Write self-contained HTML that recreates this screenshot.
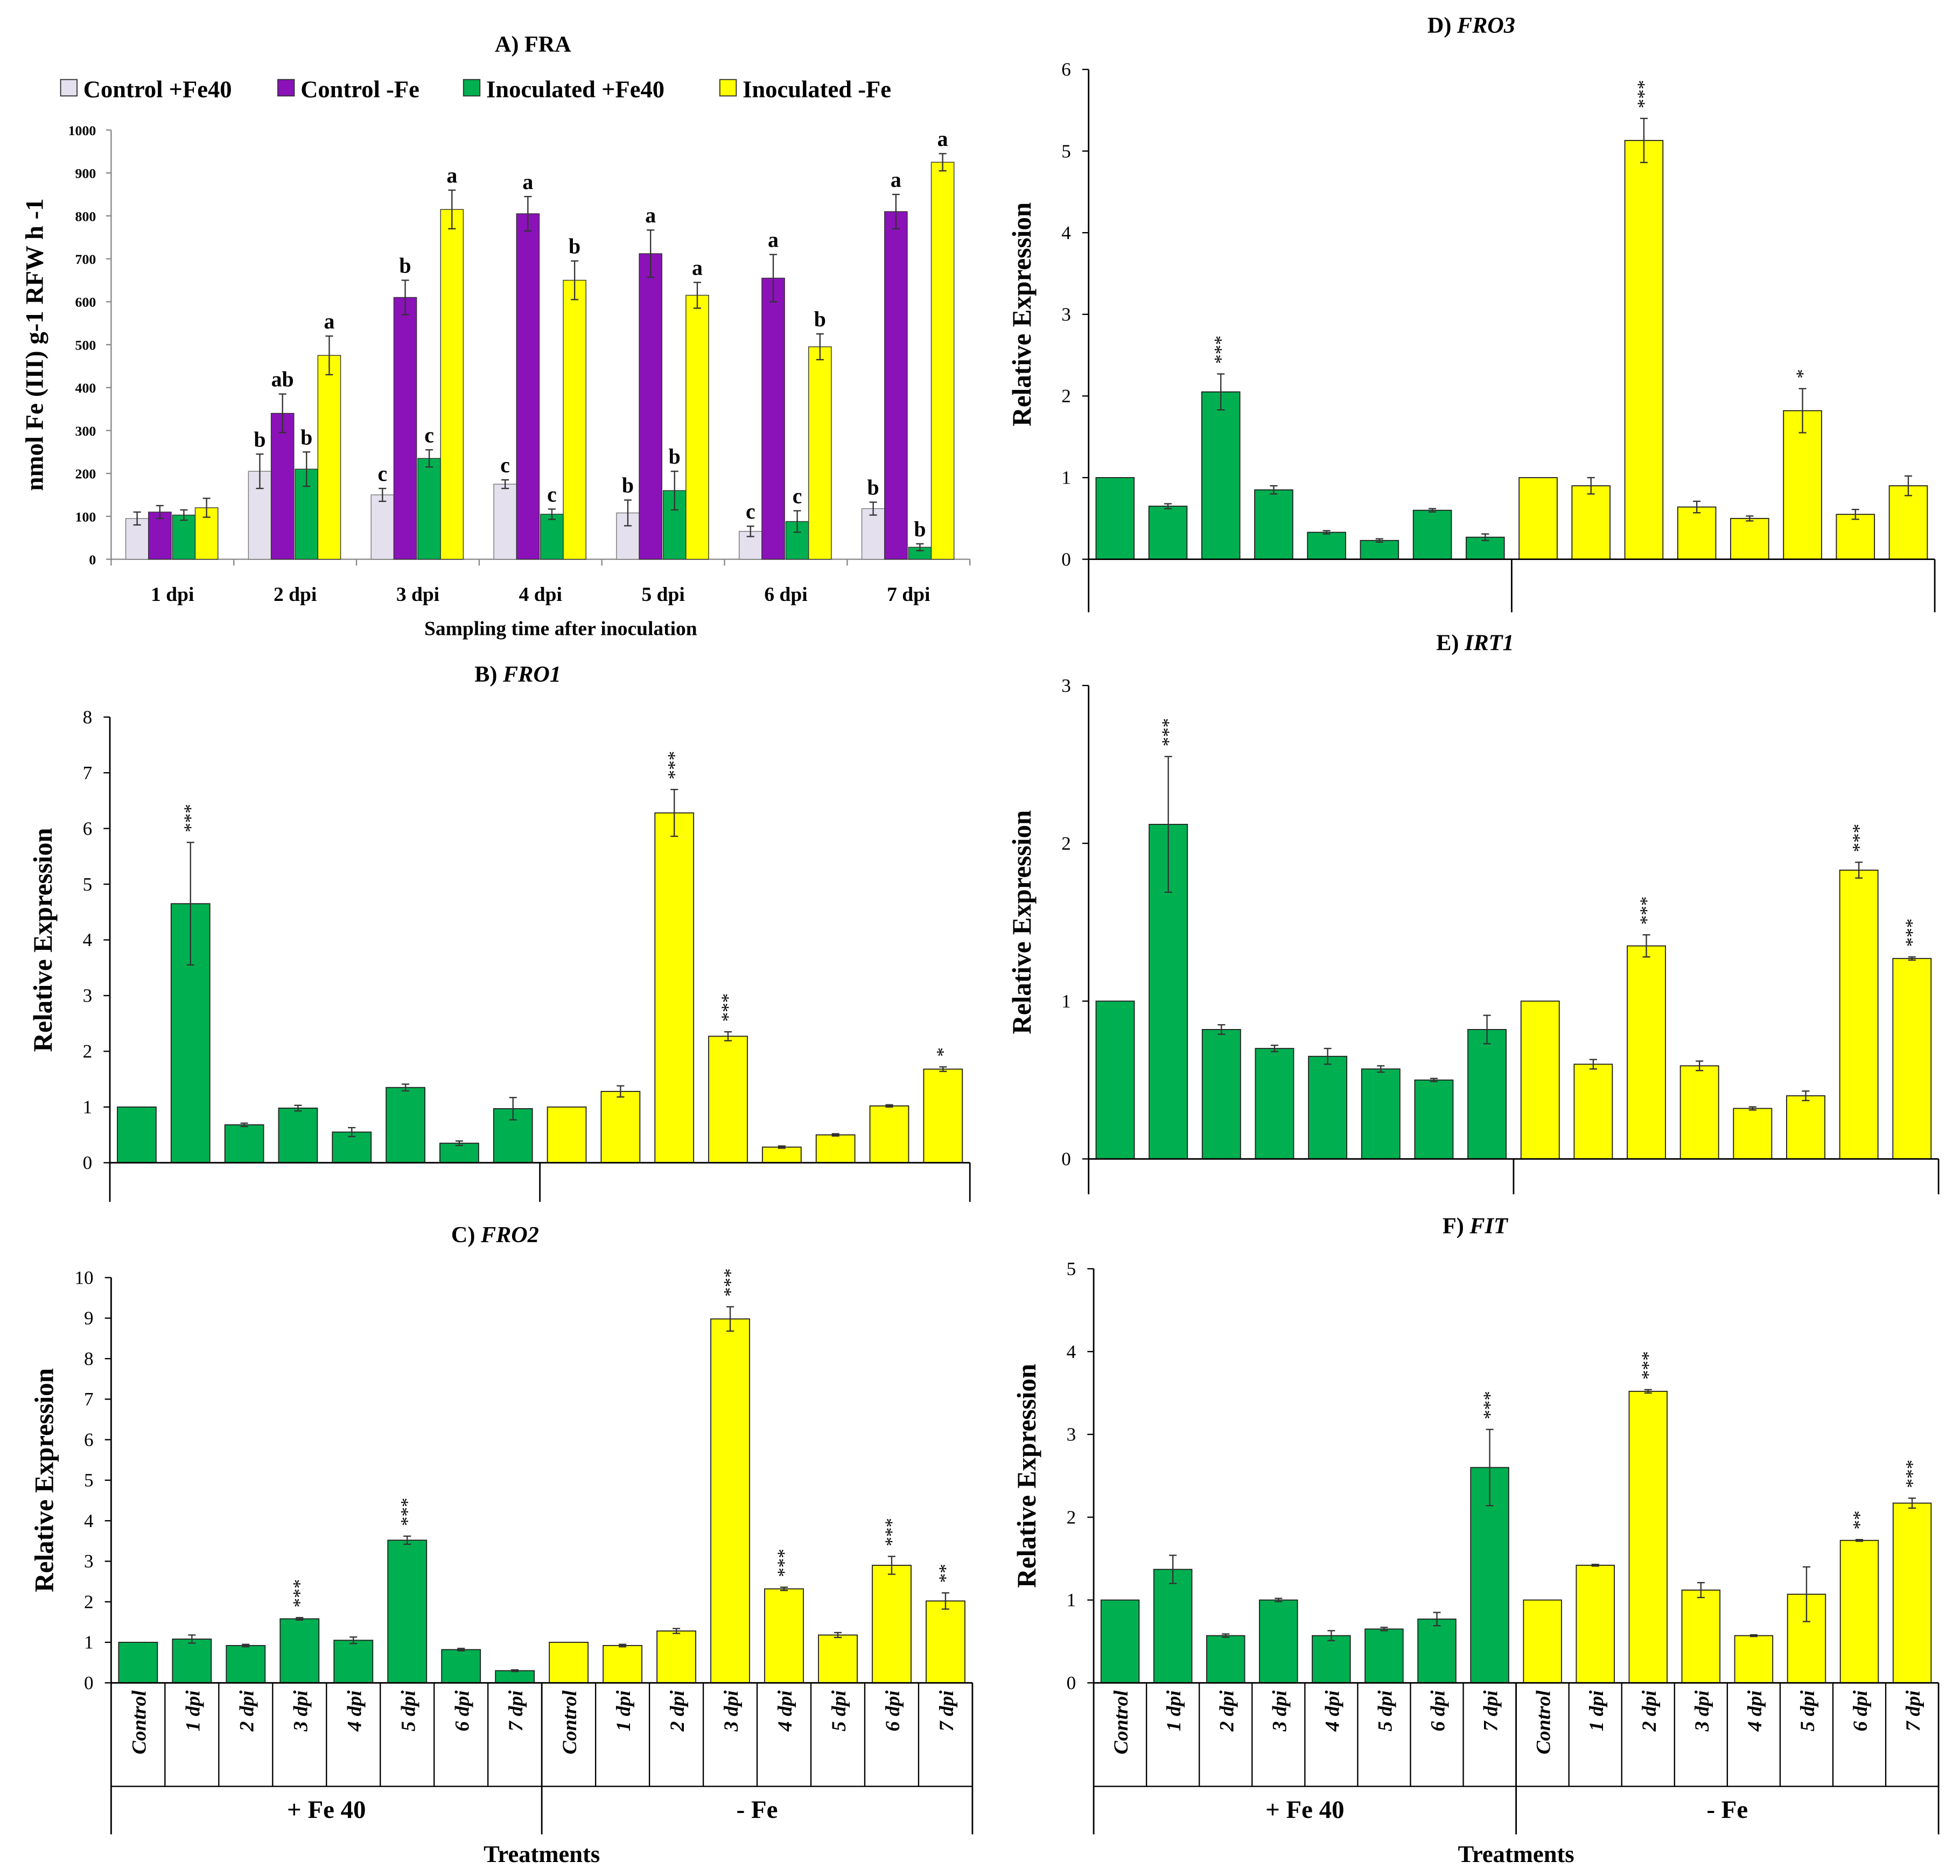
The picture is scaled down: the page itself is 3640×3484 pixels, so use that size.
<!DOCTYPE html>
<html><head><meta charset="utf-8"><style>
html,body{margin:0;padding:0;background:#fff}
svg{display:block}
text{font-family:"Liberation Serif",serif;fill:#000}
</style></head><body>
<svg id="fig" xmlns="http://www.w3.org/2000/svg" width="3640" height="3484" viewBox="0 0 1552 1486" preserveAspectRatio="none">
</svg>
<script>
// Panel A data
const fraDays = ["1 dpi","2 dpi","3 dpi","4 dpi","5 dpi","6 dpi","7 dpi"];
const fraCtrlFe40 = [95,205,150,175,108,65,118];
const fraCtrlNoFe = [110,340,610,805,712,655,810];
const fraInocFe40 = [103,210,235,105,160,88,28];
const fraInocNoFe = [120,475,815,650,615,495,925];
const fraErrCtrlFe40 = [15,40,15,10,30,12,15];
const fraErrCtrlNoFe = [15,45,40,40,55,55,40];
const fraErrInocFe40 = [12,40,20,12,45,25,8];
const fraErrInocNoFe = [22,45,45,45,30,30,20];
const fraLetCtrlFe40 = ["","b","c","c","b","c","b"];
const fraLetCtrlNoFe = ["","ab","b","a","a","a","a"];
const fraLetInocFe40 = ["","b","c","c","b","c","b"];
const fraLetInocNoFe = ["","a","a","b","a","b","a"];
const fraTicks = [0,100,200,300,400,500,600,700,800,900,1000];

// Expression panels
const exprCats = ["Control","1 dpi","2 dpi","3 dpi","4 dpi","5 dpi","6 dpi","7 dpi","Control","1 dpi","2 dpi","3 dpi","4 dpi","5 dpi","6 dpi","7 dpi"];
const fro1Vals = [1,4.65,0.68,0.98,0.55,1.35,0.35,0.97,1,1.28,6.28,2.27,0.28,0.5,1.02,1.68];
const fro1Err  = [0,1.1,0.03,0.05,0.08,0.06,0.04,0.2,0,0.1,0.42,0.08,0.02,0.02,0.02,0.04];
const fro1Sig  = ["","***","","","","","","","","","***","***","","","","*"];
const fro2Vals = [1,1.08,0.92,1.58,1.05,3.52,0.82,0.3,1,0.92,1.28,8.98,2.32,1.18,2.9,2.02];
const fro2Err  = [0,0.1,0.03,0.03,0.08,0.1,0.03,0.02,0,0.03,0.06,0.3,0.04,0.06,0.22,0.2];
const fro2Sig  = ["","","","***","","***","","","","","","***","***","","***","**"];
const fro3Vals = [1,0.65,2.05,0.85,0.33,0.23,0.6,0.27,1,0.9,5.13,0.64,0.5,1.82,0.55,0.9];
const fro3Err  = [0,0.03,0.22,0.05,0.02,0.02,0.02,0.04,0,0.1,0.27,0.07,0.03,0.27,0.06,0.12];
const fro3Sig  = ["","","***","","","","","","","","***","","","*","",""];
const irt1Vals = [1,2.12,0.82,0.7,0.65,0.57,0.5,0.82,1,0.6,1.35,0.59,0.32,0.4,1.83,1.27];
const irt1Err  = [0,0.43,0.03,0.02,0.05,0.02,0.01,0.09,0,0.03,0.07,0.03,0.01,0.03,0.05,0.01];
const irt1Sig  = ["","***","","","","","","","","","***","","","","***","***"];
const fitVals  = [1,1.37,0.57,1.0,0.57,0.65,0.77,2.6,1,1.42,3.52,1.12,0.57,1.07,1.72,2.17];
const fitErr   = [0,0.17,0.02,0.02,0.06,0.02,0.08,0.46,0,0.01,0.02,0.09,0.01,0.33,0.01,0.06];
const fitSig   = ["","","","","","","","***","","","***","","","","**","***"];

const NS="http://www.w3.org/2000/svg";
const svg=document.getElementById('fig');
function mk(tag,attrs,parent){const e=document.createElementNS(NS,tag);for(const k in attrs)e.setAttribute(k,attrs[k]);(parent||svg).appendChild(e);return e;}
function txt(x,y,s,size,opts,parent){opts=opts||{};const t=mk('text',{x:x,y:y,'font-size':size,'text-anchor':opts.anchor||'middle','font-weight':opts.weight||'bold'},parent);if(opts.italic)t.setAttribute('font-style','italic');if(opts.rot)t.setAttribute('transform','rotate('+opts.rot+' '+x+' '+y+')');t.textContent=s;return t;}

// ---------- Panel A ----------
(function(){
  const g=mk('g',{});
  
  
  const x0=88,x1=768,y0=443,yTop=103,max=1000;
  const yS=v=>y0-(v/max)*(y0-yTop);
  const grpW=(x1-x0)/fraDays.length;
  const xC=i=>x0+grpW*(i+0.5);
  const t=txt(422,41,"A) FRA",18,{},g);
  
  
  mk('line',{x1:x0,y1:yTop,x2:x0,y2:y0,stroke:'#888','stroke-width':1},g);
  mk('line',{x1:x0,y1:y0,x2:x1,y2:y0,stroke:'#888','stroke-width':1},g);
  fraTicks.forEach(v=>{
    mk('line',{x1:x0-4,y1:yS(v),x2:x0,y2:yS(v),stroke:'#888'},g);
    const tl=txt(x0-12,yS(v)+4,String(v),11,{anchor:'end',weight:'bold'},g);
    
    
  });
  for(let i=0;i<=fraDays.length;i++) mk('line',{x1:x0+grpW*i,y1:y0,x2:x0+grpW*i,y2:y0+5,stroke:'#888'},g);
  const series=[
    {v:fraCtrlFe40,e:fraErrCtrlFe40,l:fraLetCtrlFe40,c:'#e4e0ee',s:'#777',name:'control-fe40'},
    {v:fraCtrlNoFe,e:fraErrCtrlNoFe,l:fraLetCtrlNoFe,c:'#8a12b8',s:'#333',name:'control-no-fe'},
    {v:fraInocFe40,e:fraErrInocFe40,l:fraLetInocFe40,c:'#00b050',s:'#333',name:'inoculated-fe40'},
    {v:fraInocNoFe,e:fraErrInocNoFe,l:fraLetInocNoFe,c:'#ffff00',s:'#333',name:'inoculated-no-fe'}];
  const bw=18,offs=[-28,-10,9,27];
  fraDays.forEach((d,i)=>{
    series.forEach((s,k)=>{
      const cx=xC(i)+offs[k], v=s.v[i];
      const r=mk('rect',{x:cx-bw/2,y:yS(v),width:bw,height:y0-yS(v),fill:s.c,stroke:s.s,'stroke-width':0.6},g);
      
      
      const et=yS(v+s.e[i]),eb=yS(v-s.e[i]);
      mk('line',{x1:cx,y1:et,x2:cx,y2:eb,stroke:'#333','stroke-width':1},g);
      mk('line',{x1:cx-3,y1:et,x2:cx+3,y2:et,stroke:'#333'},g);
      mk('line',{x1:cx-3,y1:eb,x2:cx+3,y2:eb,stroke:'#333'},g);
      if(s.l[i]){const lt=txt(cx,et-6,s.l[i],17,{},g);
        
        }
    });
    const xl=txt(xC(i),476,d,16,{},g);
    
    
  });
  const xt=txt(444,503,"Sampling time after inoculation",16,{},g);
  
  
  const yt=txt(34,273,"nmol Fe (III) g-1 RFW h -1",20,{rot:-90},g);
  
  
  const leg=[[48,'Control +Fe40'],[220,'Control -Fe'],[367,'Inoculated +Fe40'],[570,'Inoculated -Fe']];
  leg.forEach((L,k)=>{
    const lg=mk('g',{},g);
    
    
    mk('rect',{x:L[0],y:63,width:13,height:13,fill:series[k].c,stroke:'#333','stroke-width':0.8},lg);
    txt(L[0]+18,77,L[1],19,{anchor:'start'},lg);
  });
})();

// ---------- expression panels ----------
function panel(o){
  const g=mk('g',{});
  
  
  const yS=v=>o.y0-(v/o.max)*(o.y0-o.yTop);
  const n=exprCats.length, step=(o.x1-o.x0)/n;
  const xC=i=>o.x0+step*(i+0.5);
  const t=mk('text',{x:o.tx,y:o.ty,'font-size':18,'text-anchor':'middle','font-weight':'bold'},g);
  
  
  t.textContent=o.prefix+' ';
  const ts=mk('tspan',{'font-style':'italic'},t); ts.textContent=o.gene;
  mk('line',{x1:o.x0,y1:o.yTop,x2:o.x0,y2:o.y0,stroke:'#000','stroke-width':1.2},g);
  for(let v=0;v<=o.max;v++){
    mk('line',{x1:o.x0-5,y1:yS(v),x2:o.x0,y2:yS(v),stroke:'#000'},g);
    const tl=txt(o.x0-14,yS(v)+5,String(v),15,{anchor:'end',weight:'normal'},g);
    
    
  }
  const yt=txt(o.x0-46,(o.yTop+o.y0)/2,"Relative Expression",21,{rot:-90},g);
  
  
  const bw=step*0.72;
  o.vals.forEach((v,i)=>{
    const cx=xC(i);
    const r=mk('rect',{x:cx-bw/2,y:yS(v),width:bw,height:o.y0-yS(v),fill:i<8?'#00b050':'#ffff00',stroke:'#222','stroke-width':0.8},g);
    
    
    const e=o.err[i];
    if(e>0){const et=yS(v+e),eb=yS(v-e);
      mk('line',{x1:cx,y1:et,x2:cx,y2:eb,stroke:'#333'},g);
      mk('line',{x1:cx-3,y1:et,x2:cx+3,y2:et,stroke:'#333'},g);
      mk('line',{x1:cx-3,y1:eb,x2:cx+3,y2:eb,stroke:'#333'},g);}
    if(o.sig[i]){const st=txt(cx+5,yS(v+e)-8,o.sig[i],15,{anchor:'start',weight:'normal',rot:-90},g);
      
      }
  });
  // axis / bracket
  const mid=o.x0+step*8;
  mk('line',{x1:o.x0,y1:o.y0,x2:o.x1,y2:o.y0,stroke:'#000','stroke-width':1.2},g);
  [o.x0,mid,o.x1].forEach(x=>mk('line',{x1:x,y1:o.y0,x2:x,y2:o.yB,stroke:'#000','stroke-width':1.2},g));
  if(o.labels){
    for(let i=1;i<n;i++) mk('line',{x1:o.x0+step*i,y1:o.y0,x2:o.x0+step*i,y2:o.yL,stroke:'#000'},g);
    mk('line',{x1:o.x0,y1:o.yL,x2:o.x1,y2:o.yL,stroke:'#000'},g);
    exprCats.forEach((c,i)=>{
      const cl=txt(xC(i)+6,o.y0+6,c,16,{anchor:'end',italic:true,rot:-90},g);
      
      
    });
    const a=txt((o.x0+mid)/2,o.yL+25,"+ Fe 40",20,{},g);
    
    const b=txt((mid+o.x1)/2,o.yL+25,"- Fe",20,{},g);
    
    const tr=txt(mid,o.yB+22,"Treatments",19,{},g);
    
  }
}
panel({name:'fro1',prefix:'B)',gene:'FRO1',tx:410,ty:540,x0:87,x1:768,y0:921,yTop:568,max:8,vals:fro1Vals,err:fro1Err,sig:fro1Sig,yB:952});
panel({name:'fro2',prefix:'C)',gene:'FRO2',tx:392,ty:984,x0:88,x1:770,y0:1333,yTop:1012,max:10,vals:fro2Vals,err:fro2Err,sig:fro2Sig,yB:1453,labels:true,yL:1415});
panel({name:'fro3',prefix:'D)',gene:'FRO3',tx:1165,ty:26,x0:862,x1:1532,y0:443,yTop:55,max:6,vals:fro3Vals,err:fro3Err,sig:fro3Sig,yB:485});
panel({name:'irt1',prefix:'E)',gene:'IRT1',tx:1168,ty:515,x0:862,x1:1535,y0:918,yTop:543,max:3,vals:irt1Vals,err:irt1Err,sig:irt1Sig,yB:946});
panel({name:'fit',prefix:'F)',gene:'FIT',tx:1168,ty:977,x0:866,x1:1535,y0:1333,yTop:1005,max:5,vals:fitVals,err:fitErr,sig:fitSig,yB:1453,labels:true,yL:1415});
</script>
</body></html>
